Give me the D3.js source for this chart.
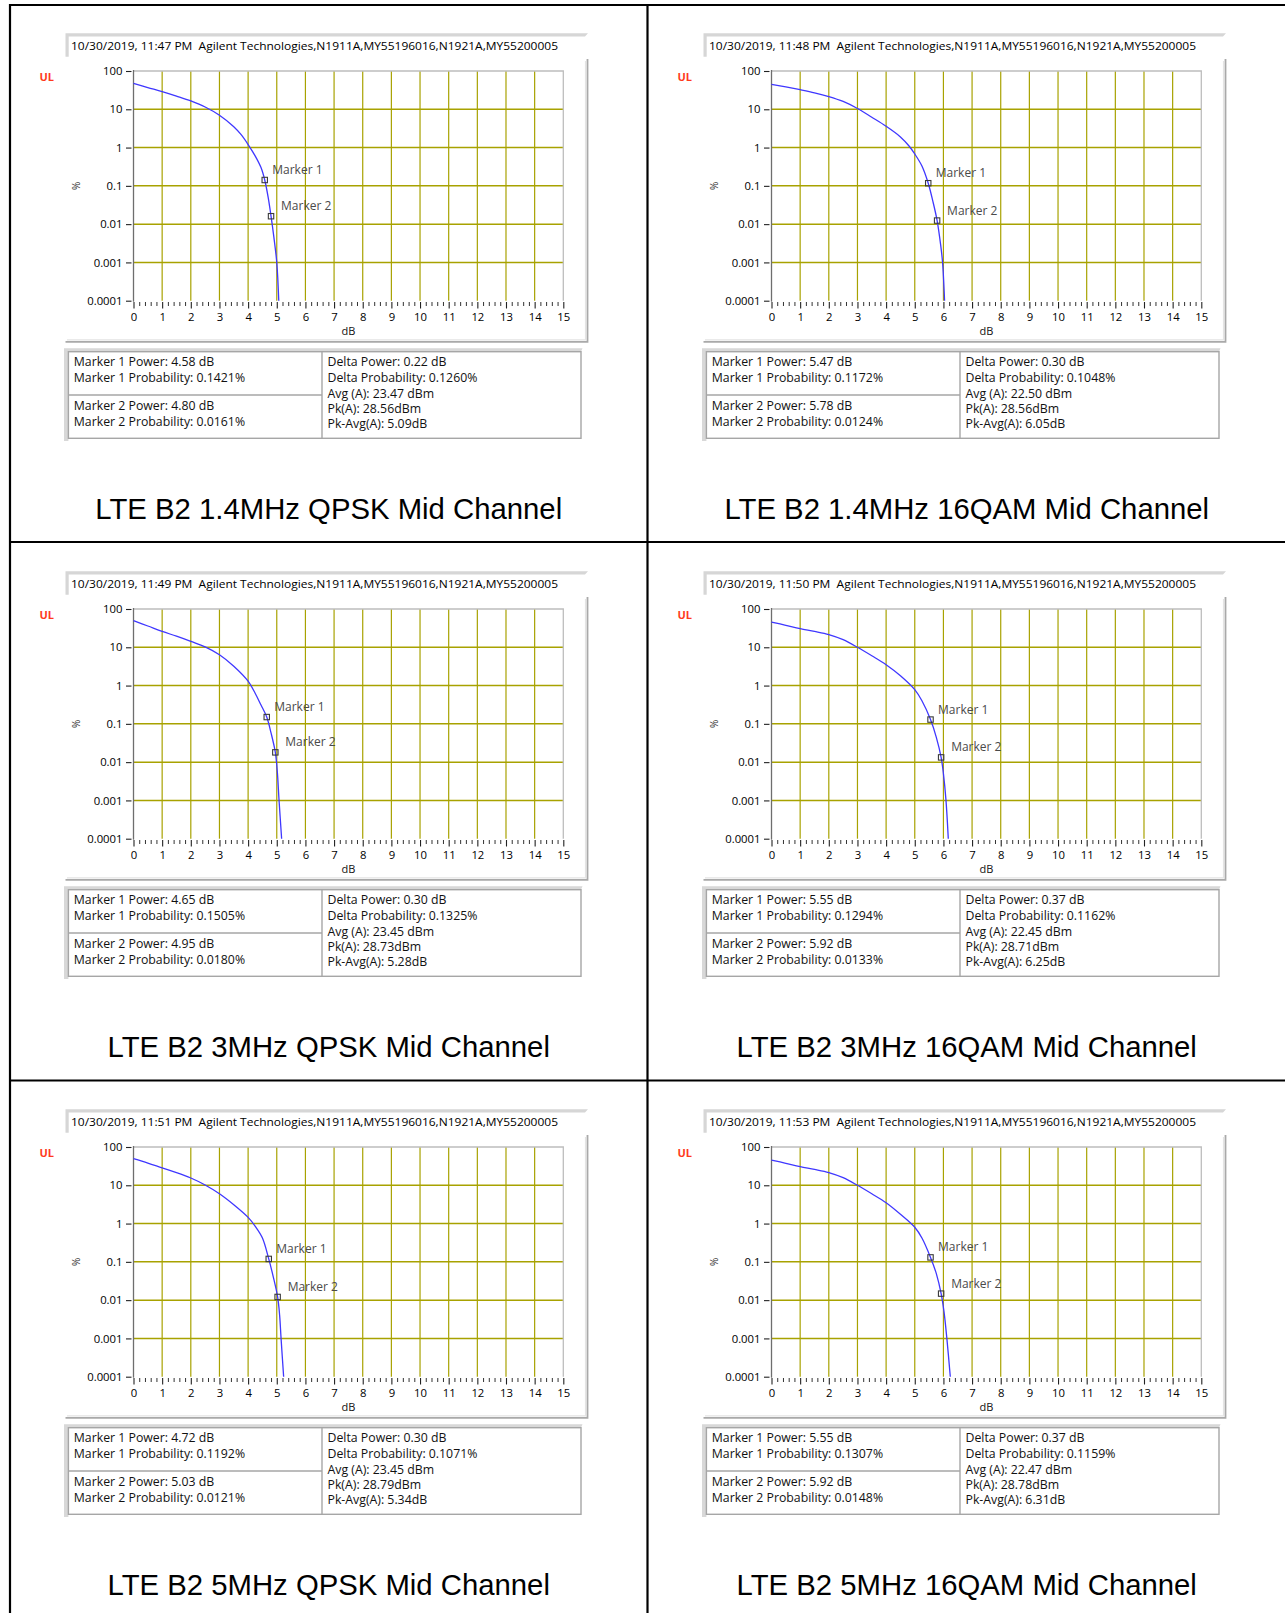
<!DOCTYPE html>
<html><head><meta charset="utf-8">
<script src="https://cdn.jsdelivr.net/npm/d3@7"></script>
<style>html,body{margin:0;padding:0;background:#fff;}svg{display:block;}</style>
</head><body>
<svg id="c" width="1285" height="1613"></svg>
<script>
// ---------- DATA ----------
const titles = ["LTE B2 1.4MHz QPSK Mid Channel","LTE B2 1.4MHz 16QAM Mid Channel","LTE B2 3MHz QPSK Mid Channel","LTE B2 3MHz 16QAM Mid Channel","LTE B2 5MHz QPSK Mid Channel","LTE B2 5MHz 16QAM Mid Channel"];
const times = ["11:47 PM","11:48 PM","11:49 PM","11:50 PM","11:51 PM","11:53 PM"];
const headerInfo = "Agilent Technologies,N1911A,MY55196016,N1921A,MY55200005";
const headerDate = "10/30/2019";

const xTicks = [0,1,2,3,4,5,6,7,8,9,10,11,12,13,14,15];
const yTicks = [100,10,1,0.1,0.01,0.001,0.0001];
const yTickLabels = ["100","10","1","0.1","0.01","0.001","0.0001"];

// CCDF curves (dB, %)
const curve1_dB  = [0,0.5,1,1.5,2,2.5,3,3.5,3.75,4,4.25,4.45,4.58,4.7,4.8,4.9,5.0,5.07];
const curve1_pct = [47.8,37,28.8,22,16.5,11.5,7.0,3.5,2.2,1.2,0.6,0.3,0.1421,0.05,0.0161,0.0045,0.001,0.0001];
const curve2_dB  = [0,0.5,1,1.5,2,2.5,3,3.5,4,4.5,4.8,5.0,5.25,5.47,5.63,5.78,5.9,5.97,6.04];
const curve2_pct = [45,38.5,32.5,27,21.5,16,10.5,6.2,3.6,1.9,1.1,0.68,0.33,0.1172,0.04,0.0124,0.003,0.001,0.0001];
const curve3_dB  = [0,0.5,1,1.5,2,2.5,3,3.5,4,4.25,4.45,4.65,4.8,4.95,5.02,5.08,5.17];
const curve3_pct = [49.5,36,26,19.5,14.3,10.3,6.4,3.2,1.3,0.62,0.31,0.1505,0.058,0.018,0.0055,0.001,0.0001];
const curve4_dB  = [0,0.5,1,1.5,2,2.5,3,3.5,4,4.5,5,5.25,5.55,5.75,5.92,6.0,6.09,6.17];
const curve4_pct = [45.7,37.5,30.6,26,21.5,15.8,10,6,3.5,1.8,0.78,0.4,0.1294,0.045,0.0133,0.005,0.001,0.0001];
const curve5_dB  = [0,0.5,1,1.5,2,2.5,3,3.5,4,4.25,4.5,4.72,4.88,5.03,5.1,5.15,5.24];
const curve5_pct = [49.5,38,28.5,21.5,15.5,10.2,6.0,3.1,1.45,0.85,0.42,0.1192,0.04,0.0121,0.004,0.001,0.0001];
const curve6_dB  = [0,0.5,1,1.5,2,2.5,3,3.5,4,4.5,5,5.25,5.55,5.75,5.92,6.02,6.12,6.24];
const curve6_pct = [45.7,37.5,30.6,26,21.5,15.8,10,6,3.5,1.75,0.8,0.42,0.1307,0.05,0.0148,0.005,0.001,0.0001];
const curvesDb  = [curve1_dB,curve2_dB,curve3_dB,curve4_dB,curve5_dB,curve6_dB];
const curvesPct = [curve1_pct,curve2_pct,curve3_pct,curve4_pct,curve5_pct,curve6_pct];

// marker readouts
const m1Power = ["4.58","5.47","4.65","5.55","4.72","5.55"];
const m1Prob  = ["0.1421","0.1172","0.1505","0.1294","0.1192","0.1307"];
const m2Power = ["4.80","5.78","4.95","5.92","5.03","5.92"];
const m2Prob  = ["0.0161","0.0124","0.0180","0.0133","0.0121","0.0148"];
const deltaPower = ["0.22","0.30","0.30","0.37","0.30","0.37"];
const deltaProb  = ["0.1260","0.1048","0.1325","0.1162","0.1071","0.1159"];
const avgA  = ["23.47","22.50","23.45","22.45","23.45","22.47"];
const pkA   = ["28.56","28.56","28.73","28.71","28.79","28.78"];
const pkAvg = ["5.09","6.05","5.28","6.25","5.34","6.31"];

// ---------- DRAW ----------
const svg = d3.select("#c");
svg.append("rect").attr("width",1285).attr("height",1613).attr("fill","#fff");

const FONT = "'Open Sans', 'DejaVu Sans', sans-serif";
const COLW = 638, ROWH = 538;

for (let p = 0; p < 6; p++) {
  const col = p % 2, row = Math.floor(p / 2);
  const ox = col * COLW, oy = row * ROWH;
  const g = svg.append("g");

  // header box (sunken)
  g.append("rect").attr("x",65.5+ox).attr("y",33.3+oy).attr("width",522.5).attr("height",23.4).attr("fill","#fff");
  g.append("polygon").attr("points",[[65.5+ox,33.3+oy],[588+ox,33.3+oy],[585+ox,36.5+oy],[68.7+ox,36.5+oy],[68.7+ox,56.7+oy],[65.5+ox,56.7+oy]].map(d=>d.join(",")).join(" ")).attr("fill","#d6d6d6");
  g.append("text").attr("x",71+ox).attr("y",50+oy).attr("font-family",FONT).attr("font-size",11.5).attr("fill","#000")
    .attr("textLength",487).attr("lengthAdjust","spacingAndGlyphs")
    .text(headerDate + ", " + times[p] + "\u00a0\u00a0" + headerInfo);

  // chart frame (raised: right/bottom edges)
  g.append("polyline").attr("points",[[587.5+ox,59+oy],[587.5+ox,341.8+oy],[65.5+ox,341.8+oy]].map(d=>d.join(",")).join(" "))
    .attr("fill","none").attr("stroke","#a9a9a9").attr("stroke-width",1.8);
  g.append("polyline").attr("points",[[585.5+ox,61+oy],[585.5+ox,339.8+oy],[67+ox,339.8+oy]].map(d=>d.join(",")).join(" "))
    .attr("fill","none").attr("stroke","#e4e4e4").attr("stroke-width",1.2);

  const x = d3.scaleLinear().domain([0,15]).range([133.5+ox,563.3+ox]);
  const y = d3.scaleLog().domain([0.0001,100]).range([300.7+oy,71+oy]);

  // grid
  g.append("g").selectAll("line").data(xTicks.slice(1,15)).join("line")
    .attr("x1",d=>x(d)).attr("x2",d=>x(d)).attr("y1",y(100)).attr("y2",y(0.0001))
    .attr("stroke","#a8a200").attr("stroke-width",1.2);
  g.append("g").selectAll("line").data(yTicks.slice(1,6)).join("line")
    .attr("x1",x(0)).attr("x2",x(15)).attr("y1",d=>y(d)).attr("y2",d=>y(d))
    .attr("stroke","#a8a200").attr("stroke-width",1.5);
  // top & right plot border
  g.append("polyline").attr("points",[[x(0),y(100)],[x(15),y(100)],[x(15),y(0.0001)]].map(d=>d.join(",")).join(" "))
    .attr("fill","none").attr("stroke","#bdbdbd").attr("stroke-width",1.3);
  // left axis line
  g.append("line").attr("x1",x(0)).attr("x2",x(0)).attr("y1",y(100)-1).attr("y2",y(0.0001)+1)
    .attr("stroke","#6e6e6e").attr("stroke-width",1.3);

  // y axis
  const ya = g.append("g").attr("transform",`translate(${x(0)-2},0)`)
    .call(d3.axisLeft(y).tickValues(yTicks).tickFormat((d,i)=>yTickLabels[i]).tickSize(5.5).tickPadding(3.5));
  ya.select(".domain").remove();
  ya.selectAll("line").attr("stroke","#222").attr("stroke-width",1.1);
  ya.selectAll("text").attr("font-family",FONT).attr("font-size",11.3).attr("fill","#000");

  // x axis minor ticks
  const minor = d3.range(0,75.5,1).map(i=>i/5).filter(v=>v%1!==0);
  const xm = g.append("g").attr("transform",`translate(0,${y(0.0001)+1.3})`)
    .call(d3.axisBottom(x).tickValues(minor).tickSize(4).tickFormat(""));
  xm.select(".domain").remove();
  xm.selectAll("line").attr("stroke","#333").attr("stroke-width",1);
  // x axis major ticks + labels
  const xa = g.append("g").attr("transform",`translate(0,${y(0.0001)+1.3})`)
    .call(d3.axisBottom(x).tickValues(xTicks).tickSize(6.5).tickPadding(4));
  xa.select(".domain").remove();
  xa.selectAll("line").attr("stroke","#222").attr("stroke-width",1.1);
  xa.selectAll("text").attr("font-family",FONT).attr("font-size",11.3).attr("fill","#000");

  // axis titles
  g.append("text").attr("x",(x(0)+x(15))/2).attr("y",335+oy).attr("text-anchor","middle")
    .attr("font-family",FONT).attr("font-size",11).attr("fill","#111").text("dB");
  g.append("text").attr("transform",`translate(${72+ox},${186+oy}) rotate(90)`).attr("text-anchor","middle")
    .attr("font-family",FONT).attr("font-size",10).attr("fill","#333").text("%");
  g.append("text").attr("x",39.5+ox).attr("y",80.7+oy).attr("font-family",FONT).attr("font-size",11)
    .attr("font-weight","bold").attr("fill","#ff3a1c").text("UL");

  // curve
  const pts = curvesDb[p].map((d,i)=>[d,curvesPct[p][i]]);
  const line = d3.line().x(d=>x(d[0])).y(d=>y(d[1])).curve(d3.curveCatmullRom.alpha(0.5));
  g.append("path").attr("d",line(pts)).attr("fill","none").attr("stroke","#3f37ff").attr("stroke-width",1.3);

  // markers
  const marks = [[+m1Power[p],+m1Prob[p],"Marker 1",7.5],[+m2Power[p],+m2Prob[p],"Marker 2",10]];
  marks.forEach(m=>{
    g.append("rect").attr("x",x(m[0])-2.7).attr("y",y(m[1])-2.7).attr("width",5.4).attr("height",5.4)
      .attr("fill","none").attr("stroke","#3a3a3a").attr("stroke-width",1.1);
    g.append("text").attr("x",x(m[0])+m[3]).attr("y",y(m[1])-6).attr("font-family",FONT).attr("font-size",12)
      .attr("fill","#4a4a4a").text(m[2]);
  });

  // table (sunken frame)
  g.append("polygon").attr("points",[[64+ox,348.3+oy],[582.5+ox,348.3+oy],[581+ox,351.7+oy],[68.4+ox,351.7+oy],[68.4+ox,441+oy],[64+ox,441+oy]].map(d=>d.join(",")).join(" ")).attr("fill","#d8d8d8");
  g.append("rect").attr("x",68.4+ox).attr("y",351.7+oy).attr("width",512.6).attr("height",86.6)
    .attr("fill","#fff").attr("stroke","#a6a6a6").attr("stroke-width",1.4);
  g.append("line").attr("x1",322+ox).attr("x2",322+ox).attr("y1",351.7+oy).attr("y2",438.3+oy).attr("stroke","#a6a6a6").attr("stroke-width",1.4);
  g.append("line").attr("x1",68.4+ox).attr("x2",322+ox).attr("y1",395+oy).attr("y2",395+oy).attr("stroke","#a6a6a6").attr("stroke-width",1.4);

  const left = [
    [366,`Marker 1 Power: ${m1Power[p]} dB`],
    [382,`Marker 1 Probability: ${m1Prob[p]}%`],
    [410.3,`Marker 2 Power: ${m2Power[p]} dB`],
    [425.6,`Marker 2 Probability: ${m2Prob[p]}%`]];
  const right = [
    [366,`Delta Power: ${deltaPower[p]} dB`],
    [382,`Delta Probability: ${deltaProb[p]}%`],
    [397.6,`Avg (A): ${avgA[p]} dBm`],
    [412.8,`Pk(A): ${pkA[p]}dBm`],
    [428.3,`Pk-Avg(A): ${pkAvg[p]}dB`]];
  g.append("g").selectAll("text").data(left).join("text").attr("x",73.8+ox).attr("y",d=>d[0]+oy)
    .attr("font-family",FONT).attr("font-size",12.3).attr("fill","#111").text(d=>d[1]);
  g.append("g").selectAll("text").data(right).join("text").attr("x",327.5+ox).attr("y",d=>d[0]+oy)
    .attr("font-family",FONT).attr("font-size",12.3).attr("fill","#111").text(d=>d[1]);

  // caption
  g.append("text").attr("x",328.75+ox).attr("y",519.3+oy).attr("text-anchor","middle")
    .attr("font-family","'Liberation Sans', Arial, sans-serif").attr("font-size",29.3).attr("fill","#000").text(titles[p]);
}

// outer table borders
const B = svg.append("g").attr("stroke","#000").attr("stroke-width",2.2);
B.append("line").attr("x1",10).attr("x2",10).attr("y1",4).attr("y2",1613);
B.append("line").attr("x1",647.5).attr("x2",647.5).attr("y1",4).attr("y2",1613);
B.append("line").attr("x1",9).attr("x2",1285).attr("y1",5).attr("y2",5);
B.append("line").attr("x1",9).attr("x2",1285).attr("y1",542).attr("y2",542);
B.append("line").attr("x1",9).attr("x2",1285).attr("y1",1080.5).attr("y2",1080.5);
</script>
</body></html>
